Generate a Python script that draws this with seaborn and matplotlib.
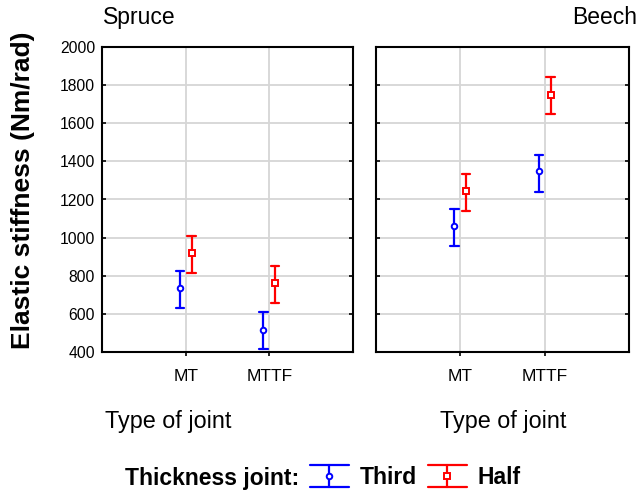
import numpy as np
import pandas as pd
import matplotlib
matplotlib.use("Agg")
import matplotlib.pyplot as plt
from matplotlib.lines import Line2D
from matplotlib.legend_handler import HandlerBase
import seaborn as sns

# ---- data ----
woods = ["Spruce", "Spruce", "Spruce", "Spruce", "Beech", "Beech", "Beech", "Beech"]
joints = ["MT", "MT", "MTTF", "MTTF", "MT", "MT", "MTTF", "MTTF"]
thickness = ["Third", "Half", "Third", "Half", "Third", "Half", "Third", "Half"]
means = [734, 918, 517, 764, 1061, 1247, 1350, 1749]
lows = [631, 816, 416, 659, 955, 1139, 1240, 1649]
highs = [825, 1010, 610, 853, 1151, 1333, 1434, 1842]

joint_order = ["MT", "MTTF"]
thick_order = ["Third", "Half"]
palette = {"Third": "#0000ff", "Half": "#ff0000"}
markers = ["o", "s"]
yticks = [400, 600, 800, 1000, 1200, 1400, 1600, 1800, 2000]

# long form: low / mean / high per group -> median + full-range interval
rows = []
for w, j, t, m, lo, hi in zip(woods, joints, thickness, means, lows, highs):
    for v in (lo, m, hi):
        rows.append({"wood": w, "joint": j, "thick": t, "value": v})
df = pd.DataFrame(rows)

sns.set_theme(style="white")
plt.rcParams["font.family"] = ["Liberation Sans", "DejaVu Sans"]
plt.rcParams["text.color"] = "black"
plt.rcParams["axes.labelcolor"] = "black"
plt.rcParams["xtick.color"] = "black"
plt.rcParams["ytick.color"] = "black"

fig = plt.figure(figsize=(6.4, 4.95), dpi=100)
ax1 = fig.add_axes([102 / 640, 1 - 352 / 495, 251 / 640, 305 / 495])
ax2 = fig.add_axes([376 / 640, 1 - 352 / 495, 253 / 640, 305 / 495])

for ax, wood in ((ax1, "Spruce"), (ax2, "Beech")):
    sub = df[df["wood"] == wood]
    sns.pointplot(data=sub, x="joint", y="value", hue="thick",
                  order=joint_order, hue_order=thick_order, palette=palette,
                  estimator="median", errorbar=("pi", 100),
                  markers=markers, linestyles=["none", "none"],
                  dodge=0.14, capsize=0.1,
                  err_kws={"linewidth": 1.6},
                  markersize=4, markeredgewidth=1.4, markerfacecolor="white",
                  legend=False, ax=ax)
    for ln in ax.lines:
        if ln.get_marker() in ("o", "s"):
            ln.set_zorder(4)
    ax.set_xlim(-1, 2)
    ax.set_ylim(400, 2000)
    ax.set_yticks(yticks)
    ax.set_xlabel("")
    ax.set_ylabel("")
    ax.grid(True, color="#d6d6d6", linewidth=1.3)
    ax.set_axisbelow(True)
    for s in ax.spines.values():
        s.set_visible(True)
        s.set_color("black")
        s.set_linewidth(1.5)
    ax.tick_params(axis="y", direction="in", left=True, right=True,
                   length=3, width=1.2, colors="black", labelsize=11.3, pad=5)
    ax.tick_params(axis="x", direction="out", bottom=True, length=3,
                   width=1.2, colors="black", labelsize=12.5, pad=9)

ax2.tick_params(axis="y", labelleft=False)

# texts
fig.text(103 / 640, 1 - 24 / 495, "Spruce", ha="left", va="baseline", fontsize=16.5, color="black")
fig.text(637 / 640, 1 - 24 / 495, "Beech", ha="right", va="baseline", fontsize=16.5, color="black")
fig.text(105 / 640, 1 - 428 / 495, "Type of joint", ha="left", va="baseline", fontsize=16.8, color="black")
fig.text(440 / 640, 1 - 428 / 495, "Type of joint", ha="left", va="baseline", fontsize=16.8, color="black")
fig.text(23 / 640, 1 - 190 / 495, "Elastic stiffness (Nm/rad)", rotation=90,
         ha="center", va="center", fontsize=19, fontweight="bold", color="black")
fig.text(125 / 640, 1 - 485 / 495, "Thickness joint:", ha="left", va="baseline",
         fontsize=16.5, fontweight="bold", color="black")


class EBHandler(HandlerBase):
    def create_artists(self, legend, orig_handle, xdescent, ydescent,
                       width, height, fontsize, trans):
        c = orig_handle.get_color()
        mk = orig_handle.get_marker()
        x0, y0 = -xdescent, -ydescent
        xm, ym = x0 + width / 2, y0 + height / 2
        arts = [
            Line2D([x0, x0 + width], [y0, y0], color=c, lw=1.6),
            Line2D([x0, x0 + width], [y0 + height, y0 + height], color=c, lw=1.6),
            Line2D([xm, xm], [y0, y0 + height], color=c, lw=1.6),
            Line2D([xm], [ym], marker=mk, color=c, markersize=4,
                   markeredgewidth=1.4, markerfacecolor="white", linestyle="none"),
        ]
        for a in arts:
            a.set_transform(trans)
        return arts


handles = [Line2D([], [], color=palette[t], marker=m) for t, m in zip(thick_order, markers)]
fig.legend(handles=handles, labels=thick_order, loc="center left",
           bbox_to_anchor=(310 / 640, 1 - 477 / 495), ncol=2, frameon=False,
           prop={"weight": "bold", "size": 16.5},
           handler_map={Line2D: EBHandler()}, handlelength=1.7, handleheight=1.05,
           handletextpad=0.45, columnspacing=0.5, borderpad=0, borderaxespad=0,
           labelcolor="black")

fig.savefig("out.png", dpi=100)
